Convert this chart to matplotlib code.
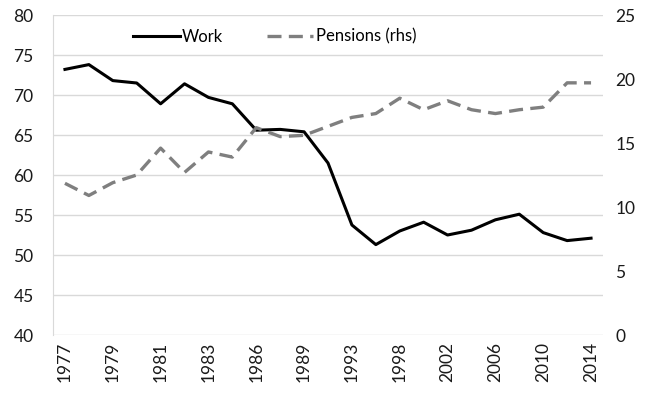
import matplotlib
matplotlib.use("Agg")
import matplotlib.pyplot as plt

years = [1977, 1978, 1979, 1980, 1981, 1982, 1983, 1984, 1986, 1987, 1989, 1991,
         1993, 1995, 1998, 2000, 2002, 2004, 2006, 2008, 2010, 2012, 2014]
work = [73.2, 73.8, 71.8, 71.5, 68.9, 71.4, 69.7, 68.9, 65.6, 65.7, 65.4, 61.5,
        53.75, 51.3, 53.0, 54.1, 52.5, 53.1, 54.4, 55.1, 52.8, 51.8, 52.1]
pensions = [11.85, 10.9, 11.9, 12.5, 14.6, 12.7, 14.3, 13.9, 16.2, 15.5, 15.6, 16.3,
            17.0, 17.3, 18.5, 17.6, 18.3, 17.6, 17.3, 17.6, 17.8, 19.7, 19.7]
labels = [str(y) if i % 2 == 0 else "" for i, y in enumerate(years)]

plt.rcParams['font.family'] = ['Lato', 'DejaVu Sans']
fig = plt.figure(figsize=(6.5, 4), dpi=100)
ax = fig.add_axes([53/650, 1-335/400, 550/650, 320/400])
ax2 = ax.twinx()

x = list(range(len(years)))
grid_c = '#d9d9d9'
ax.set_ylim(40, 80)
ax.set_yticks(range(40, 81, 5))
ax2.set_ylim(0, 25)
ax2.set_yticks(range(0, 26, 5))
ax.set_xlim(-0.5, len(years) - 0.5)
ax.set_xticks(x)
ax.set_xticklabels(labels, rotation=90)
ax.grid(axis='y', color=grid_c, lw=1)
ax.set_axisbelow(True)

l1, = ax.plot(x, work, color='black', lw=2.2, label='Work', zorder=3)
l2, = ax2.plot(x, pensions, color='#7f7f7f', lw=2.4, ls=(0, (4.2, 2.2)), label='Pensions (rhs)')

for a in (ax, ax2):
    for s in a.spines.values():
        s.set_visible(False)
    a.tick_params(length=0, labelsize=12.5, colors='#1a1a1a')
ax.spines['left'].set_visible(True)
ax.spines['left'].set_color(grid_c)
ax.tick_params(axis='y', pad=14)
ax.tick_params(axis='x', pad=5)
ax2.tick_params(axis='y', pad=9)

leg = ax2.legend(handles=[l1, l2], loc='center left',
                 bbox_to_anchor=(133/650, 1-36.7/400), bbox_transform=fig.transFigure,
                 ncol=2, frameon=False, fontsize=12, handlelength=2.8, handletextpad=0.15,
                 columnspacing=2.6, borderaxespad=0, borderpad=0)

fig.savefig('out.png', dpi=100)
